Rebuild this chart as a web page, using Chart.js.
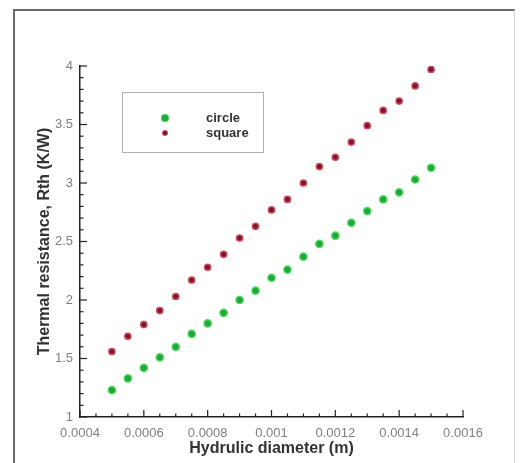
<!DOCTYPE html>
<html>
<head>
<meta charset="utf-8">
<script src="https://cdn.jsdelivr.net/npm/chart.js@4.4.1/dist/chart.umd.min.js"></script>
<style>
  body { margin: 0; background: #fff; }
  #wrap { position: relative; width: 526px; height: 463px; }
  #frame {
    position: absolute; left: 13px; top: 9px; width: 499px; height: 460px;
    border-left: 2px solid #6a6a6a; border-top: 2px solid #6a6a6a; border-right: 1px solid #d8d8d8;
  }
  canvas { position: absolute; left: 0; top: 0; }
  #legend {
    position: absolute; left: 122px; top: 92px; width: 140px; height: 59px;
    border: 1px solid #b0b0b0; font: bold 13px "Liberation Sans", Arial, sans-serif; color: #333;
  }
  .item { position: absolute; left: 83px; }
  .dot { position: absolute; border-radius: 50%; }
</style>
</head>
<body>
<div id="wrap">
  <div id="frame"></div>
  <canvas id="chart" width="526" height="463"></canvas>
  <div id="legend"></div>
</div>
<script>
// hydraulic diameter (m)
const diameters = [0.0005, 0.00055, 0.0006, 0.00065, 0.0007, 0.00075, 0.0008, 0.00085, 0.0009, 0.00095,
    0.001, 0.00105, 0.0011, 0.00115, 0.0012, 0.00125, 0.0013, 0.00135, 0.0014, 0.00145, 0.0015];
const circleRth = [1.23, 1.33, 1.42, 1.51, 1.60, 1.71, 1.80, 1.89, 2.00, 2.08,
    2.19, 2.26, 2.37, 2.48, 2.55, 2.66, 2.76, 2.86, 2.92, 3.03, 3.13];
const squareRth = [1.56, 1.69, 1.79, 1.91, 2.03, 2.17, 2.28, 2.39, 2.53, 2.63,
    2.77, 2.86, 3.00, 3.14, 3.22, 3.35, 3.49, 3.62, 3.70, 3.83, 3.97];
const seriesNames = ['circle', 'square'];
const xTickLabels = ['0.0004', '0.0006', '0.0008', '0.001', '0.0012', '0.0014', '0.0016'];
const yTickLabels = ['1', '1.5', '2', '2.5', '3', '3.5', '4'];

const fills = ['#27a23c', '#6e1c2c'];
const edges = ['#46dc5c', '#d2475e'];
const radii = [3.6, 3.1];

// inward major + minor tick marks, Tecplot style
const tickMarks = {
    id: 'tickMarks',
    afterDatasetsDraw(chart) {
        const { ctx, chartArea } = chart;
        const x = chart.scales.x, y = chart.scales.y;
        ctx.save();
        ctx.strokeStyle = '#222';
        ctx.lineWidth = 1.2;
        const xs = x.ticks.map(t => x.getPixelForValue(t.value));
        xs.forEach((px, i) => {
            ctx.beginPath(); ctx.moveTo(px, chartArea.bottom); ctx.lineTo(px, chartArea.bottom - 7); ctx.stroke();
            if (i < xs.length - 1) {
                for (let k = 1; k < 4; k++) {
                    const m = px + (xs[i + 1] - px) * k / 4;
                    ctx.beginPath(); ctx.moveTo(m, chartArea.bottom); ctx.lineTo(m, chartArea.bottom - 3.5); ctx.stroke();
                }
            }
        });
        const ys = y.ticks.map(t => y.getPixelForValue(t.value));
        ys.forEach((py, i) => {
            ctx.beginPath(); ctx.moveTo(chartArea.left, py); ctx.lineTo(chartArea.left + 7, py); ctx.stroke();
            if (i < ys.length - 1) {
                for (let k = 1; k < 5; k++) {
                    const m = py + (ys[i + 1] - py) * k / 5;
                    ctx.beginPath(); ctx.moveTo(chartArea.left, m); ctx.lineTo(chartArea.left + 3.5, m); ctx.stroke();
                }
            }
        });
        ctx.restore();
    }
};

const tickFont = { family: '"Liberation Sans", Arial, sans-serif', size: 13 };
const titleFont = { family: '"Liberation Sans", Arial, sans-serif', size: 16, weight: 'bold' };

new Chart(document.getElementById('chart'), {
    type: 'scatter',
    data: {
        datasets: [circleRth, squareRth].map((vals, i) => ({
            label: seriesNames[i],
            data: vals.map((v, j) => ({ x: diameters[j], y: v })),
            backgroundColor: fills[i],
            borderColor: edges[i],
            borderWidth: 1.5,
            pointRadius: radii[i],
        })),
    },
    options: {
        responsive: false,
        animation: false,
        layout: { padding: { left: 0, top: 66, right: 63, bottom: 0 } },
        plugins: { legend: { display: false }, tooltip: { enabled: false } },
        scales: {
            x: {
                type: 'linear', min: 0.0004, max: 0.0016,
                afterFit: s => { s.height = 46; },
                grid: { display: false, drawTicks: false },
                border: { display: true, color: '#222', width: 1.5 },
                ticks: { stepSize: 0.0002, padding: 9, color: '#808080', font: tickFont, maxRotation: 0,
                    callback: (v, i) => xTickLabels[i] },
                title: { display: true, text: 'Hydrulic diameter (m)', color: '#333', font: titleFont,
                    padding: { top: 0, bottom: 5 } },
            },
            y: {
                type: 'linear', min: 1, max: 4,
                afterFit: s => { s.width = 80; },
                grid: { display: false, drawTicks: false },
                border: { display: true, color: '#222', width: 1.5 },
                ticks: { stepSize: 0.5, padding: 7, color: '#808080', font: tickFont,
                    callback: (v, i) => yTickLabels[i] },
                title: { display: true, text: 'Thermal resistance, Rth (K/W)', color: '#333', font: titleFont,
                    padding: { top: 35, bottom: 0 } },
            },
        },
    },
    plugins: [tickMarks],
});

// legend box inside the plot, like the original
const legendDot = [2.6, 2.1];
const legend = document.getElementById('legend');
seriesNames.forEach((name, i) => {
    const rowY = 25 + i * 15;
    const d = legendDot[i] * 2;
    const dot = document.createElement('div');
    dot.className = 'dot';
    dot.style.cssText = `left:${42 - d / 2}px;top:${rowY - d / 2}px;width:${d}px;height:${d}px;` +
        `background:${fills[i]};box-shadow:0 0 0 1px ${edges[i]};`;
    legend.appendChild(dot);
    const t = document.createElement('div');
    t.className = 'item';
    t.style.top = (rowY - 8) + 'px';
    t.textContent = name;
    legend.appendChild(t);
});
</script>
</body>
</html>
